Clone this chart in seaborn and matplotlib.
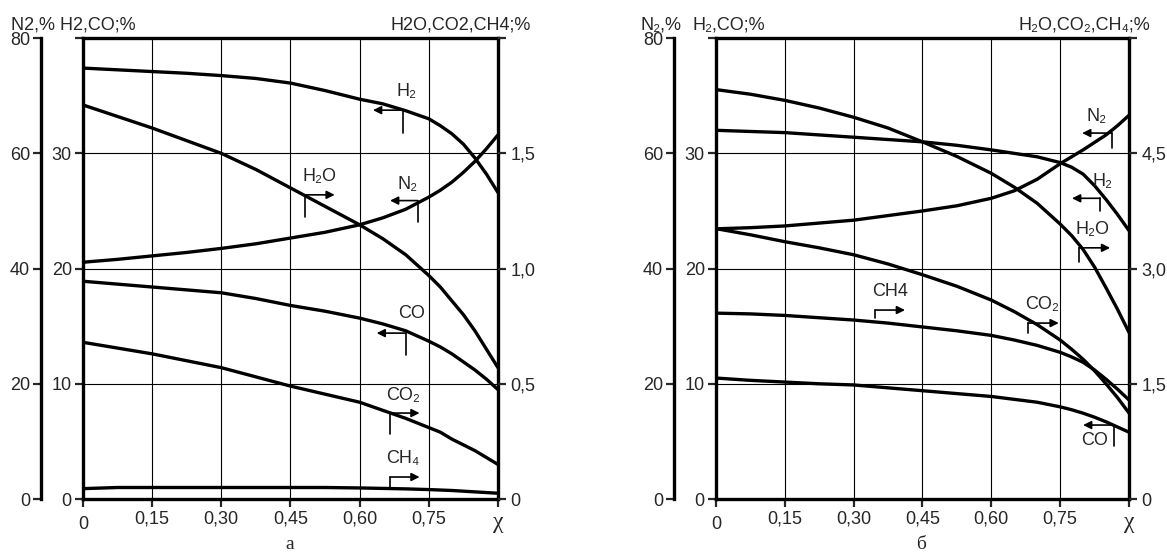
import numpy as np
import pandas as pd
import seaborn as sns
import matplotlib.pyplot as plt

# dados (χ = grau de conversão)
chi = [0, 0.075, 0.15, 0.225, 0.30, 0.375, 0.45, 0.525, 0.60, 0.65, 0.70,
       0.75, 0.775, 0.80, 0.825, 0.85, 0.875, 0.90]

# painel a
a_h2 = [37.4, 37.25, 37.1, 36.95, 36.75, 36.5, 36.1, 35.45, 34.7, 34.3, 33.7,
        33.0, 32.4, 31.7, 30.8, 29.6, 28.2, 26.6]                     # H2,CO;%
a_co = [18.9, 18.65, 18.4, 18.15, 17.9, 17.4, 16.8, 16.3, 15.7, 15.2, 14.6,
        13.7, 13.2, 12.6, 11.9, 11.2, 10.4, 9.5]
a_n2 = [41.1, 41.6, 42.2, 42.8, 43.5, 44.3, 45.3, 46.3, 47.6, 48.8, 50.3,
        52.4, 53.6, 55.0, 56.7, 58.6, 60.8, 63.2]                     # N2,%
a_h2o = [1.71, 1.66, 1.61, 1.555, 1.50, 1.43, 1.35, 1.27, 1.19, 1.13, 1.06,
         0.97, 0.92, 0.86, 0.80, 0.73, 0.65, 0.57]                    # H2O,CO2,CH4;%
a_co2 = [0.68, 0.655, 0.63, 0.60, 0.57, 0.53, 0.49, 0.455, 0.42, 0.385, 0.35,
         0.31, 0.29, 0.26, 0.235, 0.21, 0.18, 0.15]
a_ch4 = [0.045, 0.05, 0.05, 0.05, 0.05, 0.05, 0.05, 0.05, 0.048, 0.046, 0.044,
         0.041, 0.039, 0.037, 0.034, 0.031, 0.028, 0.025]

# painel б
b_h2 = [32.0, 31.9, 31.8, 31.6, 31.4, 31.2, 31.0, 30.7, 30.3, 30.0, 29.7,
        29.2, 28.8, 28.2, 27.2, 26.0, 24.7, 23.3]
b_co = [10.5, 10.3, 10.15, 10.0, 9.9, 9.65, 9.4, 9.15, 8.9, 8.65, 8.4,
        8.0, 7.75, 7.45, 7.1, 6.7, 6.25, 5.8]
b_n2 = [46.9, 47.1, 47.4, 47.9, 48.4, 49.2, 50.0, 50.9, 52.2, 53.5, 55.5,
        58.2, 59.4, 60.6, 61.9, 63.2, 64.8, 66.6]
b_h2o = [5.33, 5.27, 5.19, 5.09, 4.97, 4.83, 4.65, 4.46, 4.24, 4.06, 3.85,
         3.58, 3.43, 3.25, 3.02, 2.75, 2.47, 2.17]
b_co2 = [3.52, 3.44, 3.35, 3.27, 3.18, 3.06, 2.92, 2.77, 2.59, 2.44, 2.27,
         2.07, 1.95, 1.82, 1.67, 1.50, 1.32, 1.12]
b_ch4 = [2.42, 2.41, 2.39, 2.36, 2.33, 2.29, 2.24, 2.19, 2.13, 2.07, 2.00,
         1.91, 1.85, 1.78, 1.68, 1.56, 1.43, 1.29]

x_ticks = [0, 0.15, 0.30, 0.45, 0.60, 0.75, 0.90]
x_labels = ['', '0,15', '0,30', '0,45', '0,60', '0,75', '']

sns.set_style("ticks")
plt.rcParams['font.family'] = ['Liberation Sans', 'DejaVu Sans']

fig = plt.figure(figsize=(11.67, 5.6), dpi=100)
LW = 2.4
FS = 13


def flag(ax, x0, x1, y0, y1, text, tx, ty):
    # marcador: traço vertical + seta horizontal
    ax.plot([x0, x0], [y0, y1], color='black', lw=1.2, clip_on=False)
    ax.annotate('', xy=(x1, y1), xytext=(x0, y1),
                arrowprops=dict(arrowstyle='-|>', color='black', lw=1.2,
                                mutation_scale=12, shrinkA=0, shrinkB=0))
    ax.text(tx, ty, text, ha='center', va='center', fontsize=FS)


def painel(rect, h2, co, n2, h2o, co2, ch4, r_max, r_ticks, r_labels, caption, cap_x):
    ax = fig.add_axes(rect)
    ax_n2 = ax.twinx()
    ax_r = ax.twinx()

    sns.lineplot(x=chi, y=h2, ax=ax, color='black', lw=LW)
    sns.lineplot(x=chi, y=co, ax=ax, color='black', lw=LW)
    sns.lineplot(x=chi, y=n2, ax=ax_n2, color='black', lw=LW)
    for s in (h2o, co2, ch4):
        sns.lineplot(x=chi, y=s, ax=ax_r, color='black', lw=LW)

    ax.set_xlim(0, 0.9)
    ax.set_ylim(0, 40)
    ax_n2.set_ylim(0, 80)
    ax_r.set_ylim(0, r_max)

    ax.set_xticks(x_ticks)
    ax.set_xticklabels(x_labels, fontsize=FS)
    ax.set_yticks([0, 10, 20, 30, 40])
    ax.set_yticklabels(['0', '10', '20', '30', ''], fontsize=FS)
    ax.grid(visible=True, color='black', lw=0.8)
    ax.tick_params(direction='out', length=6, width=1.6, pad=2)

    ax_n2.yaxis.set_ticks_position('left')
    ax_n2.spines['left'].set_position(('outward', 30))
    ax_n2.set_yticks([0, 20, 40, 60, 80])
    ax_n2.set_yticklabels(['0', '20', '40', '60', '80'], fontsize=FS)
    ax_n2.tick_params(direction='out', length=6, width=1.6, pad=2)

    ax_r.set_yticks(r_ticks)
    ax_r.set_yticklabels(r_labels, fontsize=FS)
    ax_r.tick_params(direction='out', length=6, width=1.6, pad=3)

    for a in (ax, ax_n2, ax_r):
        a.set_xlabel(None)
        a.set_ylabel(None)
        for sp in a.spines.values():
            sp.set_visible(False)
    for sp in ('left', 'right', 'top', 'bottom'):
        ax.spines[sp].set_visible(True)
        ax.spines[sp].set_linewidth(2.4)
        ax.spines[sp].set_color('black')
    ax_n2.spines['left'].set_visible(True)
    ax_n2.spines['left'].set_linewidth(2.4)
    ax_n2.spines['left'].set_color('black')

    ax.annotate('0', xy=(0, 0), xycoords=('data', 'axes fraction'), xytext=(0, -12),
                textcoords='offset points', ha='center', va='top', fontsize=FS)
    ax.annotate('χ', xy=(0.9, 0), xycoords=('data', 'axes fraction'), xytext=(0, -9),
                textcoords='offset points', ha='center', va='top', fontsize=17,
                family='Liberation Serif')
    fig.text(cap_x, 0.027, caption, ha='center', va='center', fontsize=14,
             family='Liberation Serif')
    return ax


ax_a = painel([0.0711, 0.1089, 0.3556, 0.823], a_h2, a_co, a_n2, a_h2o, a_co2, a_ch4,
              2.0, [0, 0.5, 1.0, 1.5, 2.0], ['0', '0,5', '1,0', '1,5', ''], 'а', 0.2485)
flag(ax_a, 0.694, 0.629, 31.8, 33.75, 'H₂', 0.702, 35.4)
flag(ax_a, 0.481, 0.546, 24.5, 26.4, 'H₂O', 0.512, 28.0)
flag(ax_a, 0.726, 0.666, 24.0, 25.9, 'N₂', 0.705, 27.3)
flag(ax_a, 0.700, 0.637, 12.5, 14.4, 'CO', 0.713, 16.1)
flag(ax_a, 0.666, 0.730, 5.64, 7.46, 'CO₂', 0.694, 9.0)
flag(ax_a, 0.666, 0.730, 0.95, 1.91, 'CH₄', 0.694, 3.5)
fig.text(0.009, 0.955, 'N2,% H2,CO;%', fontsize=FS, va='center')
fig.text(0.4545, 0.955, 'H2O,CO2,CH4;%', fontsize=FS, va='center', ha='right')

ax_b = painel([0.6135, 0.1089, 0.3539, 0.823], b_h2, b_co, b_n2, b_h2o, b_co2, b_ch4,
              6.0, [0, 1.5, 3.0, 4.5, 6.0], ['0', '1,5', '3,0', '4,5', ''], 'б', 0.789)
flag(ax_b, 0.863, 0.798, 30.46, 31.76, 'N₂', 0.830, 33.2)
flag(ax_b, 0.837, 0.776, 25.0, 26.1, 'H₂', 0.843, 27.6)
flag(ax_b, 0.791, 0.859, 20.6, 21.8, 'H₂O', 0.820, 23.4)
flag(ax_b, 0.680, 0.747, 14.4, 15.27, 'CO₂', 0.710, 16.9)
flag(ax_b, 0.347, 0.412, 15.7, 16.4, 'CH4', 0.380, 18.05)
flag(ax_b, 0.868, 0.800, 4.60, 6.42, 'CO', 0.824, 5.1)
fig.text(0.549, 0.955, 'N₂,%', fontsize=FS, va='center')
fig.text(0.593, 0.955, 'H₂,CO;%', fontsize=FS, va='center')
fig.text(0.986, 0.955, 'H₂O,CO₂,CH₄;%', fontsize=FS, va='center', ha='right')

plt.savefig('out.png', dpi=100)
